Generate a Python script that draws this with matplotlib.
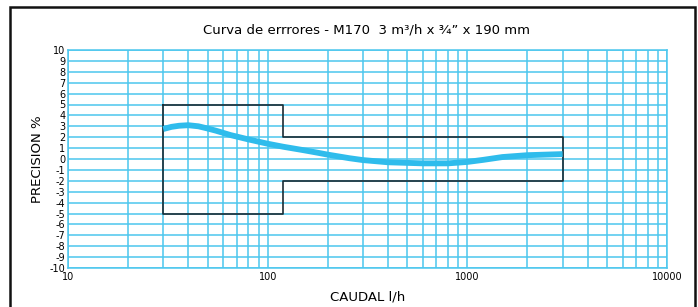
import numpy as np
import matplotlib.pyplot as plt
from matplotlib.patches import Rectangle

# error curve (flow l/h, error %)
caudal = [30, 33, 36, 40, 45, 50, 55, 65, 80, 100, 120, 150, 175, 200, 257, 300,
          400, 600, 800, 1000, 1200, 1500, 2000, 3000]
error = [2.75, 2.95, 3.05, 3.1, 3.0, 2.8, 2.6, 2.2, 1.8, 1.4, 1.12, 0.82, 0.6,
         0.4, 0.07, -0.1, -0.3, -0.4, -0.4, -0.27, -0.08, 0.18, 0.35, 0.45]

# tolerance envelope
lim_x = [30, 120, 120, 3000, 3000, 120, 120, 30, 30]
lim_y = [5, 5, 2, 2, -2, -2, -5, -5, 5]

yticks = list(range(-10, 11))
grid_col = '#4cc6ee'
curve_col = '#2fbcec'

fig = plt.figure(figsize=(6.98, 3.07), dpi=100)
ax = fig.add_axes([68 / 698, 39 / 307, 599 / 698, 218 / 307])

ax.set_xscale('log')
ax.set_xlim(10, 10000)
ax.set_ylim(-10, 10)
ax.set_yticks(yticks)
ax.set_yticklabels([str(v) for v in yticks], fontsize=7)
ax.set_xticks([10, 100, 1000, 10000])
ax.set_xticklabels(['10', '100', '1000', '10000'], fontsize=7)
ax.tick_params(which='both', length=0, pad=3)
ax.tick_params(axis='y', pad=2)

ax.grid(True, which='both', axis='x', color=grid_col, linewidth=1.1)
ax.grid(True, which='major', axis='y', color=grid_col, linewidth=1.1)
for s in ax.spines.values():
    s.set_color(grid_col)
    s.set_linewidth(1.1)

ax.plot(lim_x, lim_y, color='#1b2b33', linewidth=1.2, zorder=3)
ax.plot(caudal, error, color=curve_col, linewidth=4.2,
        solid_capstyle='butt', solid_joinstyle='round', zorder=4)

ax.set_ylabel('PRECISION %', fontsize=9.5, labelpad=4)
ax.set_xlabel('CAUDAL l/h', fontsize=9.5, labelpad=6)
fig.text(367 / 698, 1 - 30 / 307, 'Curva de errrores - M170  3 m³/h x ¾” x 190 mm',
         ha='center', va='center', fontsize=9.5)

# outer frame, open at the bottom edge of the image
fig.patches.append(Rectangle((10 / 698, -0.1), 685 / 698, 1.1 - 7 / 307,
                             transform=fig.transFigure, fill=False,
                             edgecolor='#111111', linewidth=1.8))

fig.savefig('out.png', dpi=100)
